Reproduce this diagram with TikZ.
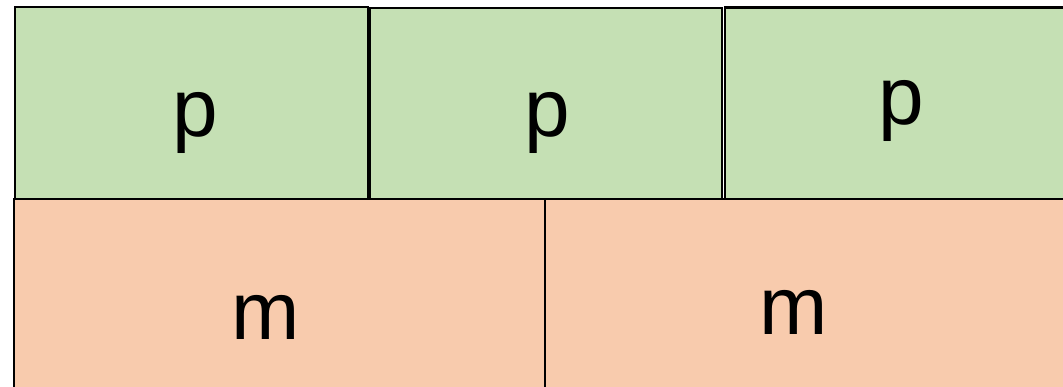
\documentclass[tikz,border=0pt]{standalone}
\usepackage{fontspec}
\setmainfont{Liberation Sans}
\definecolor{pgreen}{HTML}{C5E0B4}
\definecolor{morange}{HTML}{F8CBAD}
\begin{document}
\begin{tikzpicture}[x=1pt,y=1pt,
  cell/.style={draw=black,line width=2.3pt,inner sep=0pt,outer sep=0pt},
  gbox/.style={cell,fill=pgreen,minimum height=192pt},
  obox/.style={cell,fill=morange,minimum height=201pt},
  lab/.style={anchor=base,inner sep=0pt,font=\fontsize{82}{90}\selectfont}]
\useasboundingbox (0,0) rectangle (1063,387);
\clip (0,0) rectangle (1063,387);
\fill[white] (0,0) rectangle (1063,387);
\node[gbox,minimum width=353pt] (g1) at (191.5,284) {};
\node[gbox,minimum width=352pt] (g2) at (546,283) {};
\node[gbox,minimum width=350pt] (g3) at (900,283.5) {};
\node[obox,minimum width=531pt] (o1) at (279.5,87.5) {};
\node[obox,minimum width=535pt] (o2) at (812.5,87.5) {};
\node[lab] (p1) at (195,250) {p};
\node[lab] (p2) at (547,250) {p};
\node[lab] (p3) at (901,262) {p};
\node[lab] (m1) at (266,47) {m};
\node[lab] (m2) at (794,52) {m};
\end{tikzpicture}
\end{document}
